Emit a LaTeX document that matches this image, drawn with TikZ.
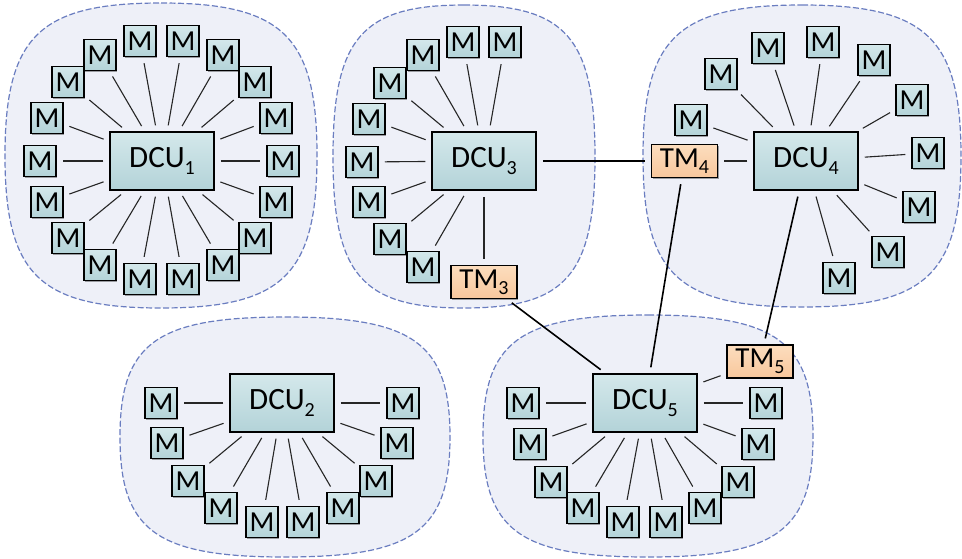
\documentclass[tikz,border=0pt]{standalone}
\usepackage{fontspec}
\setmainfont{Carlito}
\usetikzlibrary{shadows}
\definecolor{blobfill}{HTML}{EEF0F8}
\definecolor{blobdraw}{HTML}{6A7DC0}
\definecolor{tealtop}{HTML}{D4E8EB}
\definecolor{tealbot}{HTML}{B3D3D8}
\definecolor{orangetop}{HTML}{FCDDBE}
\definecolor{orangebot}{HTML}{F8C79C}
\newcommand\sbs[1]{\raisebox{-0.22em}{\fontsize{20}{20}\selectfont #1}}
\newcommand\myblob[4]{%
  \pgfmathsetmacro\bxa{#1}\pgfmathsetmacro\bya{#2}%
  \pgfmathsetmacro\bxb{#3}\pgfmathsetmacro\byb{#4}%
  \pgfmathsetmacro\bcx{(#1+#3)/2}\pgfmathsetmacro\bcy{(#2+#4)/2}%
  \pgfmathsetmacro\ba{(#3-#1)/2}\pgfmathsetmacro\bb{(#4-#2)/2}%
  \def\blobf{0.78}%
  \path[blob] (\bcx,\bya) .. controls (\bcx+\blobf*\ba,\bya) and (\bxb,\bcy-\blobf*\bb) .. (\bxb,\bcy)
    .. controls (\bxb,\bcy+\blobf*\bb) and (\bcx+\blobf*\ba,\byb) .. (\bcx,\byb)
    .. controls (\bcx-\blobf*\ba,\byb) and (\bxa,\bcy+\blobf*\bb) .. (\bxa,\bcy)
    .. controls (\bxa,\bcy-\blobf*\bb) and (\bcx-\blobf*\ba,\bya) .. cycle;}
\tikzset{
  blob/.style={fill=blobfill, draw=blobdraw, line width=1.2pt, dash pattern=on 6pt off 2.5pt},
  boxbase/.style={draw=black, line width=1.5pt, inner sep=0pt, text=black,
    drop shadow={shadow xshift=1.2pt, shadow yshift=-1.2pt, opacity=0.35, fill=black}},
  mbox/.style={boxbase, top color=tealtop, bottom color=tealbot, minimum width=32pt, minimum height=31pt,
    font=\fontsize{29}{29}\selectfont},
  dcubox/.style={boxbase, top color=tealtop, bottom color=tealbot, minimum width=104pt, minimum height=58pt,
    font=\fontsize{31}{31}\selectfont},
  tmbox/.style={boxbase, top color=orangetop, bottom color=orangebot, minimum width=66pt, minimum height=33pt,
    font=\fontsize{29}{29}\selectfont},
  link/.style={draw=black!85, line width=1.1pt, shorten <=6pt, shorten >=6pt},
  trunk/.style={draw=black, line width=1.6pt, shorten <=6pt, shorten >=6pt}
}
\begin{document}
\begin{tikzpicture}[x=1pt,y=-1pt]
\useasboundingbox (0,0) rectangle (962,558);
% background clusters
\myblob{5}{3}{317}{308}
\myblob{333}{5}{595}{308}
\myblob{643}{5}{961}{307}
\myblob{120}{317}{450}{557}
\myblob{483}{315}{813}{557}
% DCUs and TMs
\node[dcubox] (dcu1) at (162,161) {DCU\sbs{1}};
\node[dcubox] (dcu3) at (484,161) {DCU\sbs{3}};
\node[dcubox] (dcu4) at (806,161) {DCU\sbs{4}};
\node[dcubox] (dcu2) at (282,403) {DCU\sbs{2}};
\node[dcubox] (dcu5) at (645,403) {DCU\sbs{5}};
\node[tmbox] (tm3) at (484,282) {TM\sbs{3}};
\node[tmbox] (tm4) at (684.5,161) {TM\sbs{4}};
\node[tmbox] (tm5) at (760,361.5) {TM\sbs{5}};
% meters cluster 1
\foreach \x/\y [count=\i] in {140/41,183/41,100/55,223/55,68/82,255/82,47/118,276/118,40/161,283/161,
  47/202,276/202,68/238,255/238,100/265,223/265,140/279,183/279}
  {\node[mbox] (c1m\i) at (\x,\y) {M}; \draw[link] (dcu1) -- (c1m\i);}
% meters cluster 3
\foreach \x/\y [count=\i] in {463/42,505/42,423/55,390/83,369/119,362/162,369/202,390/239,423/267}
  {\node[mbox] (c3m\i) at (\x,\y) {M}; \draw[link] (dcu3) -- (c3m\i);}
% meters cluster 4
\foreach \x/\y [count=\i] in {691/120,721/74,768/48,823/42,874/60,912/100,928/153,919/207,888/252,839/278}
  {\node[mbox] (c4m\i) at (\x,\y) {M}; \draw[link] (dcu4) -- (c4m\i);}
% meters cluster 2
\foreach \x/\y [count=\i] in {161/403,403/403,167/443,397/443,188/481,376/481,221/508,343/508,262/522,303/522}
  {\node[mbox] (c2m\i) at (\x,\y) {M}; \draw[link] (dcu2) -- (c2m\i);}
% meters cluster 5
\foreach \x/\y [count=\i] in {523/403,766/403,530/444,758/444,551/482,738/482,583/508,705/508,623/522,666/522}
  {\node[mbox] (c5m\i) at (\x,\y) {M}; \draw[link] (dcu5) -- (c5m\i);}
% local links to TMs
\draw[link] (dcu3) -- (tm3);
\draw[link] (dcu4) -- (tm4);
\draw[link] (dcu5) -- (tm5);
% inter-cluster links
\draw[trunk] (dcu3) -- (tm4);
\draw[trunk] (tm3) -- (dcu5);
\draw[trunk] (tm4) -- (dcu5);
\draw[trunk] (dcu4) -- (tm5);
\end{tikzpicture}
\end{document}
